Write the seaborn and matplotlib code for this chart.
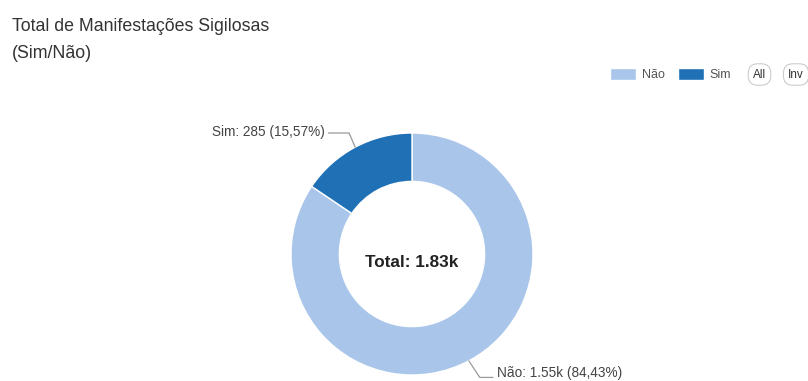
import matplotlib
matplotlib.use("Agg")
import matplotlib.pyplot as plt
import numpy as np
import seaborn as sns

# Data
categories = ["Não", "Sim"]
values = [1546, 285]
colors = ["#a9c6ea", "#1f70b5"]
title_lines = ["Total de Manifestações Sigilosas", "(Sim/Não)"]
buttons = ["All", "Inv"]

sns.set_theme(style="white")
plt.rcParams["font.family"] = ["Liberation Sans", "DejaVu Sans"]

W, H = 808, 381
fig = plt.figure(figsize=(W / 100, H / 100), dpi=100)
fig.patch.set_facecolor("white")


def fx(x):
    return x / W


def fy(y):
    return 1 - y / H


# Donut placement: centre (412, 254), outer radius 121 px
cx, cy, R = 412, 254, 121
ax = fig.add_axes([fx(cx - R), fy(cy + R), 2 * R / W, 2 * R / H])
wedges, _ = ax.pie(
    values,
    colors=colors,
    startangle=90,
    counterclock=False,
    radius=1.0,
    wedgeprops=dict(width=0.40, edgecolor="white", linewidth=1),
)
ax.set_xlim(-1, 1)
ax.set_ylim(-1, 1)
ax.set_aspect("equal")
ax.axis("off")

total = sum(values)


def fmt_count(v):
    return f"{v / 1000:.2f}k" if v >= 1000 else f"{v}"


def fmt_pct(v):
    return f"{100 * v / total:.2f}".replace(".", ",") + "%"


ax.text(0, -0.07, f"Total: {fmt_count(total)}",
        ha="center", va="center", fontsize=12.3, fontweight="bold", color="#222222")

# Data labels with elbow connectors
label_color = "#444444"
line_color = "#9a9a9a"
for w, cat, v in zip(wedges, categories, values):
    mid = np.deg2rad((w.theta1 + w.theta2) / 2)
    ex, ey = np.cos(mid), np.sin(mid)
    text = f"{cat}: {fmt_count(v)} ({fmt_pct(v)})"
    if ex < 0:
        elbow = (-0.52, 1.0)
        end = (-0.69, 1.0)
        ax.plot([ex, elbow[0], end[0]], [ey, elbow[1], end[1]], color=line_color,
                lw=0.9, clip_on=False)
        ax.text(end[0] - 0.03, end[1] + 0.005, text, ha="right", va="center",
                fontsize=9.8, color=label_color, clip_on=False)
    else:
        elbow = (0.56, -1.02)
        end = (0.67, -1.02)
        ax.plot([ex, elbow[0], end[0]], [ey, elbow[1], end[1]], color=line_color,
                lw=0.9, clip_on=False)
        ax.text(end[0] + 0.03, -0.985, text, ha="left", va="center",
                fontsize=9.8, color=label_color, clip_on=False)

# Title
fig.text(fx(12), fy(31), title_lines[0], ha="left", va="baseline",
         fontsize=12.8, color="#333333")
fig.text(fx(12), fy(58), title_lines[1], ha="left", va="baseline",
         fontsize=12.8, color="#333333")

# Legend
leg = fig.legend(
    wedges, categories,
    loc="center left",
    bbox_to_anchor=(fx(610), fy(74.5)),
    ncol=2,
    frameon=False,
    fontsize=9,
    handlelength=2.1,
    handleheight=1.05,
    handletextpad=0.48,
    columnspacing=1.0,
    borderaxespad=0,
    borderpad=0,
)
for t in leg.get_texts():
    t.set_color("#555555")

# Toggle buttons
for label, x in zip(buttons, [759.5, 796]):
    fig.text(fx(x), fy(74.5), label, ha="center", va="center", fontsize=8.5,
             color="#333333",
             bbox=dict(boxstyle="round,pad=0.4,rounding_size=0.8",
                       facecolor="white", edgecolor="#cccccc", linewidth=0.8))

fig.savefig("out.png", dpi=100, facecolor="white")
